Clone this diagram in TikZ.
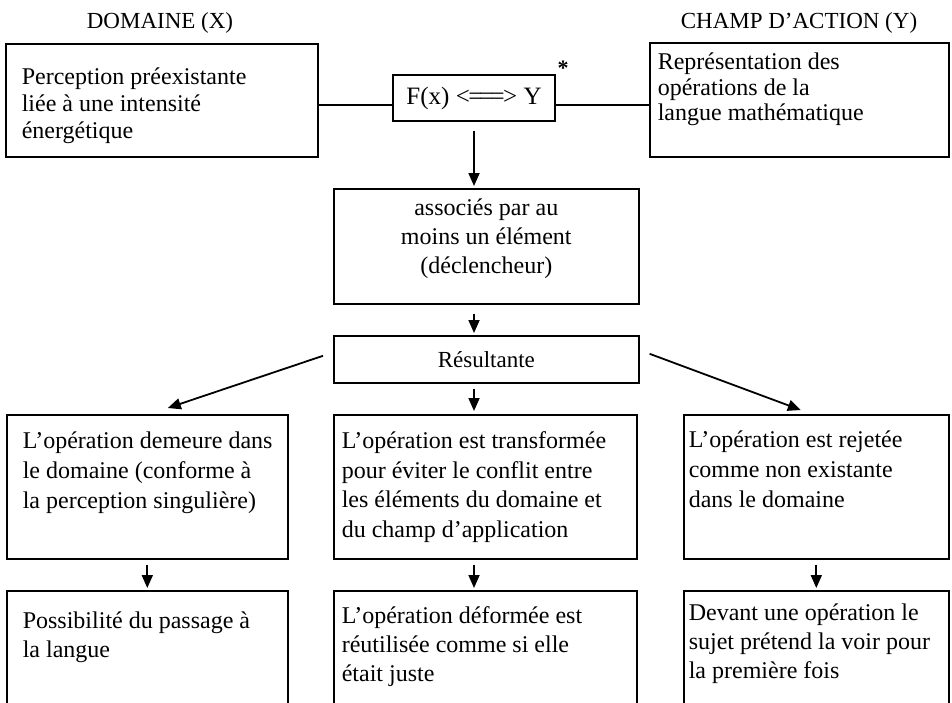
\documentclass[tikz,border=0pt]{standalone}
\usepackage{fontspec}
\setmainfont{Liberation Serif}
\usetikzlibrary{arrows.meta}

% box text: width, height, left pad, first baseline, lines
\newcommand{\celltext}[5]{\parbox[c][#2][t]{#1}{\raggedright\leftskip=#3pt\rule{0pt}{#4pt}#5}}

\begin{document}
\begin{tikzpicture}[x=1pt,y=-1pt,line width=1.6pt,
                    >={Triangle[length=13pt,width=11pt]},
                    cell/.style={draw,inner sep=0pt,anchor=north west,font=\fontsize{24pt}{#1}\selectfont},
                    head/.style={font=\fontsize{23pt}{27pt}\selectfont},
                    link/.style={->,line width=1.8pt}]
\useasboundingbox (0,0) rectangle (952,702);
\clip (0,0) rectangle (952,702);

\node[head] (domain) at (160,23) {DOMAINE (X)};
\node[head] (champ) at (799,23) {CHAMP D’ACTION (Y)};

\node[cell=27pt] (percep) at (5,43) {\celltext{312pt}{113pt}{16}{41}{Perception préexistante\\liée à une intensité\\énergétique}};
\node[cell=25.5pt] (repres) at (649,42) {\celltext{299pt}{114pt}{8}{27}{Représentation des\\opérations de la\\langue mathématique}};
\node[draw,inner sep=0pt,minimum width=162pt,minimum height=46pt,font=\fontsize{25pt}{28pt}\selectfont] (fxy) at (474,98)
  {F(x) <\kern-1.5pt=\kern-3pt=\kern-3pt=\kern-1.5pt> Y};
\node[font=\bfseries\fontsize{22pt}{24pt}\selectfont] (star) at (563,68) {*};

\node[cell=29pt] (assoc) at (333,188) {\parbox[c][115pt][t]{305pt}{\centering\rule{0pt}{27pt}associés par au\\moins un élément\\(déclencheur)}};
\node[draw,inner sep=0pt,anchor=north west,minimum width=305pt,minimum height=47pt,font=\fontsize{23pt}{26pt}\selectfont] (result) at (333,335) {Résultante};

\node[cell=30pt] (stays) at (6,414) {\celltext{281pt}{144pt}{16}{34}{L’opération demeure dans\\le domaine (conforme à\\la perception singulière)}};
\node[cell=29.5pt] (transf) at (333,414) {\celltext{303pt}{144pt}{8}{34}{L’opération est transformée\\pour éviter le conflit entre\\les éléments du domaine et\\du champ d’application}};
\node[cell=30pt] (reject) at (683,414) {\celltext{265pt}{144pt}{5}{33}{L’opération est rejetée\\comme non existante\\dans le domaine}};

\node[cell=29pt] (passage) at (6,590) {\celltext{281pt}{130pt}{16}{38}{Possibilité du passage à\\la langue}};
\node[cell=29pt] (reuse) at (333,590) {\celltext{303pt}{130pt}{8}{33}{L’opération déformée est\\réutilisée comme si elle\\était juste}};
\node[cell=29pt] (first) at (683,590) {\celltext{265pt}{130pt}{5}{30}{Devant une opération le\\sujet prétend la voir pour\\la première fois}};

% links between domain, function and action field
\draw ([yshift=-7pt]fxy.west) -- ([yshift=-7pt]fxy.west -| percep.east);
\draw ([yshift=-7pt]fxy.east) -- ([yshift=-7pt]fxy.east -| repres.west);

\draw[link,shorten <=9pt,shorten >=2pt] (fxy.south) -- (fxy.south |- assoc.north);
\draw[link,shorten <=9pt,shorten >=2pt] (assoc.south -| fxy.south) -- (result.north -| fxy.south);
\draw[link,shorten <=5pt,shorten >=3pt] (result.south -| fxy.south) -- (transf.north -| fxy.south);
\draw[link] ([xshift=-10pt,yshift=3.5pt]result.west) -- ([xshift=20.5pt,yshift=6pt]stays.north);
\draw[link] ([xshift=10pt,yshift=5.5pt]result.east) -- ([xshift=-15.5pt,yshift=4pt]reject.north);

\draw[link,shorten <=5pt,shorten >=2pt] (stays.south) -- (passage.north);
\draw[link,shorten <=5pt,shorten >=2pt] (transf.south -| fxy.south) -- (reuse.north -| fxy.south);
\draw[link,shorten <=5pt,shorten >=2pt] (reject.south) -- (first.north);
\end{tikzpicture}
\end{document}
